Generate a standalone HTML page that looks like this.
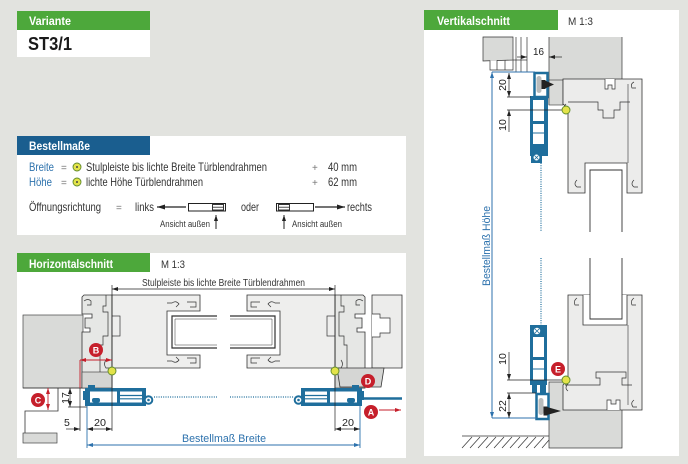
<!DOCTYPE html>
<html><head><meta charset="utf-8"><style>
html,body{margin:0;padding:0;background:#e2e3df;}
svg{display:block;}
text{font-family:"Liberation Sans",sans-serif;}
</style></head><body>
<svg width="688" height="464" viewBox="0 0 688 464" xmlns="http://www.w3.org/2000/svg">
<defs>
<marker id="mk" markerUnits="userSpaceOnUse" markerWidth="6" markerHeight="4" viewBox="0 0 6 4" refX="6" refY="2" orient="auto-start-reverse"><path d="M0,0 L6,2 L0,4 Z" fill="#222"/></marker>
<marker id="mb" markerUnits="userSpaceOnUse" markerWidth="6" markerHeight="4" viewBox="0 0 6 4" refX="6" refY="2" orient="auto-start-reverse"><path d="M0,0 L6,2 L0,4 Z" fill="#2d72ad"/></marker>
<marker id="mr" markerUnits="userSpaceOnUse" markerWidth="6" markerHeight="4" viewBox="0 0 6 4" refX="6" refY="2" orient="auto-start-reverse"><path d="M0,0 L6,2 L0,4 Z" fill="#c61f2b"/></marker>
<marker id="mbig" markerUnits="userSpaceOnUse" markerWidth="8" markerHeight="5" viewBox="0 0 8 5" refX="8" refY="2.5" orient="auto-start-reverse"><path d="M0,0 L8,2.5 L0,5 Z" fill="#222"/></marker>

<g id="leafL">
  <path d="M84,295 L112,295 L112,388 L82,388 L82,332 L90,332 L90,328 L85,328 L85,318 L92,318 L92,314 L82,314 L82,297 Z" fill="#e6e7e5" stroke="#333" stroke-width="0.8"/>
  <rect x="82" y="372" width="30" height="16" fill="#d4d5d3" stroke="#333" stroke-width="0.6"/>
  <path d="M84,301 Q88,298 91,301 L91,305 L87,305" fill="none" stroke="#333" stroke-width="0.7"/>
  <polyline points="106,295 106,306 103,306 103,312 108,312 108,336 103,336 103,345 100,345 100,372" fill="none" stroke="#333" stroke-width="0.7"/>
  <path d="M106,360 Q103,364 106,368 L110,368" fill="none" stroke="#333" stroke-width="0.7"/>
  <path d="M112,295 L200,295 L200,311 L167,311 L167,355 L200,355 L200,368 L112,368 Z" fill="#eeeeed" stroke="#333" stroke-width="0.8"/>
  <rect x="112" y="316" width="8" height="20" fill="#eeeeed" stroke="#333" stroke-width="0.7"/>
  <path d="M167,303 L172,303 Q176,300 179,304 L176,307 M187,302 L196,302 L196,307 L190,307" fill="none" stroke="#333" stroke-width="0.7"/>
  <path d="M167,361 L172,361 Q176,364 179,360 L176,357 M187,358 L196,358 L196,363 L190,363" fill="none" stroke="#333" stroke-width="0.7"/>
  <path d="M217,316 L172,316 L172,348 L217,348" fill="#fff" stroke="#333" stroke-width="1.2"/>
  <path d="M217,319 L175,319 L175,345 L217,345" fill="none" stroke="#333" stroke-width="0.5"/>
</g>

<g id="blueL">
  <rect x="85" y="388" width="61" height="18" fill="#1f6e9c"/>
  <rect x="88" y="385" width="7" height="4" fill="#1f6e9c"/>
  <rect x="83" y="391" width="3" height="9" fill="#1f6e9c"/>
  <rect x="90" y="391.5" width="27" height="11" fill="#fff"/>
  <rect x="92" y="398" width="8" height="4.5" rx="2" fill="#1f6e9c"/>
  <rect x="120" y="391.5" width="22" height="11" fill="#fff"/>
  <line x1="120" y1="395.5" x2="142" y2="395.5" stroke="#1f6e9c" stroke-width="1.2"/>
  <line x1="120" y1="398.8" x2="142" y2="398.8" stroke="#1f6e9c" stroke-width="1.2"/>
  <circle cx="148.5" cy="400" r="4.8" fill="#1f6e9c"/>
  <circle cx="148.5" cy="400" r="2.8" fill="#fff"/>
  <circle cx="148.5" cy="400" r="1.3" fill="#1f6e9c"/>
</g>
</defs>

<rect width="688" height="464" fill="#e2e3df"/>

<!-- Variante -->
<rect x="17" y="11" width="133" height="19" fill="#4da83b"/>
<text x="29" y="25" font-size="11.5" font-weight="bold" fill="#fff" textLength="42" lengthAdjust="spacingAndGlyphs">Variante</text>
<rect x="17" y="30" width="133" height="27" fill="#fff"/>
<text x="28" y="50" font-size="18" font-weight="bold" fill="#1a1a1a" textLength="44" lengthAdjust="spacingAndGlyphs">ST3/1</text>

<!-- Bestellmaße -->
<rect x="17" y="136" width="389" height="99" fill="#fff"/>
<rect x="17" y="136" width="133" height="19" fill="#1a5e8f"/>
<text x="29" y="150" font-size="11.5" font-weight="bold" fill="#fff" textLength="61" lengthAdjust="spacingAndGlyphs">Bestellmaße</text>

<g font-size="12" fill="#333">
<text x="29" y="171" fill="#2d72ad" textLength="25" lengthAdjust="spacingAndGlyphs">Breite</text>
<text x="61" y="171" font-size="10" fill="#777">=</text>
<text x="86" y="171" textLength="181" lengthAdjust="spacingAndGlyphs">Stulpleiste bis lichte Breite Türblendrahmen</text>
<text x="312" y="171" font-size="10" fill="#777">+</text>
<text x="328" y="171" textLength="29" lengthAdjust="spacingAndGlyphs">40 mm</text>

<text x="29" y="186" fill="#2d72ad" textLength="23" lengthAdjust="spacingAndGlyphs">Höhe</text>
<text x="61" y="186" font-size="10" fill="#777">=</text>
<text x="86" y="186" textLength="117" lengthAdjust="spacingAndGlyphs">lichte Höhe Türblendrahmen</text>
<text x="312" y="186" font-size="10" fill="#777">+</text>
<text x="328" y="186" textLength="29" lengthAdjust="spacingAndGlyphs">62 mm</text>

<text x="29" y="211" textLength="72" lengthAdjust="spacingAndGlyphs">Öffnungsrichtung</text>
<text x="116" y="211" font-size="10" fill="#777">=</text>
<text x="135" y="211" textLength="19" lengthAdjust="spacingAndGlyphs">links</text>
<text x="241" y="211" textLength="18" lengthAdjust="spacingAndGlyphs">oder</text>
<text x="347" y="211" textLength="25" lengthAdjust="spacingAndGlyphs">rechts</text>
</g>
<circle cx="77" cy="167" r="4" fill="#e3e34a" stroke="#5f8a2a" stroke-width="0.9"/>
<circle cx="77" cy="167" r="1" fill="#444"/>
<circle cx="77" cy="182" r="4" fill="#e3e34a" stroke="#5f8a2a" stroke-width="0.9"/>
<circle cx="77" cy="182" r="1" fill="#444"/>

<line x1="186" y1="207" x2="157" y2="207" stroke="#222" stroke-width="1.2" marker-end="url(#mbig)"/>
<rect x="188.5" y="203.5" width="37" height="7.5" fill="none" stroke="#222" stroke-width="1"/>
<rect x="212.5" y="204.5" width="11" height="5.5" fill="none" stroke="#222" stroke-width="0.9"/>
<line x1="212.5" y1="207.2" x2="223.5" y2="207.2" stroke="#222" stroke-width="0.8"/>
<rect x="276.5" y="203.5" width="37" height="7.5" fill="none" stroke="#222" stroke-width="1"/>
<rect x="278.5" y="204.5" width="11" height="5.5" fill="none" stroke="#222" stroke-width="0.9"/>
<line x1="278.5" y1="207.2" x2="289.5" y2="207.2" stroke="#222" stroke-width="0.8"/>
<line x1="315" y1="207" x2="345" y2="207" stroke="#222" stroke-width="1.2" marker-end="url(#mbig)"/>

<text x="160" y="227" font-size="9" fill="#333" textLength="50" lengthAdjust="spacingAndGlyphs">Ansicht außen</text>
<line x1="216" y1="229" x2="216" y2="215" stroke="#222" stroke-width="1" marker-end="url(#mk)"/>
<line x1="284" y1="229" x2="284" y2="215" stroke="#222" stroke-width="1" marker-end="url(#mk)"/>
<text x="292" y="227" font-size="9" fill="#333" textLength="50" lengthAdjust="spacingAndGlyphs">Ansicht außen</text>

<!-- Horizontalschnitt -->
<rect x="17" y="253" width="389" height="205" fill="#fff"/>
<rect x="17" y="253" width="133" height="19" fill="#4da83b"/>
<text x="29" y="268" font-size="11.5" font-weight="bold" fill="#fff" textLength="84" lengthAdjust="spacingAndGlyphs">Horizontalschnitt</text>
<text x="161" y="268" font-size="11" fill="#333" textLength="24" lengthAdjust="spacingAndGlyphs">M 1:3</text>

<rect x="23" y="315" width="60" height="73" fill="#d9dad8" stroke="#444" stroke-width="0.7"/>
<line x1="23" y1="388" x2="112" y2="388" stroke="#333" stroke-width="0.8"/>
<polyline points="58,388 58,411 25,411 25,433" fill="none" stroke="#333" stroke-width="0.8"/>
<rect x="23" y="433" width="34" height="10" fill="#d9dad8" stroke="#444" stroke-width="0.7"/>

<use href="#leafL"/>
<use href="#leafL" transform="translate(447,0) scale(-1,1)"/>

<path d="M372,295 L402,295 L402,368 L372,368 Z" fill="#ececeb" stroke="#333" stroke-width="0.8"/>
<path d="M372,314 L380,314 L380,318 L390,318 L390,333 L380,333 L380,337 L372,337" fill="#fff" stroke="#333" stroke-width="0.7"/>
<path d="M337,368 L384,368 L381,387 L340,387 Z" fill="#d5d6d4" stroke="#333" stroke-width="0.8"/>

<use href="#blueL"/>
<use href="#blueL" transform="translate(447,0) scale(-1,1)"/>
<line x1="361" y1="398.5" x2="402" y2="398.5" stroke="#1f6e9c" stroke-width="2.4"/>
<line x1="154" y1="397" x2="217" y2="397" stroke="#1f6e9c" stroke-width="1.3" stroke-dasharray="1 1.3"/>
<line x1="230" y1="397" x2="294" y2="397" stroke="#1f6e9c" stroke-width="1.3" stroke-dasharray="1 1.3"/>

<g stroke="#222" stroke-width="0.7" fill="none">
<line x1="112" y1="289" x2="335" y2="289" marker-start="url(#mk)" marker-end="url(#mk)"/>
<line x1="112" y1="285" x2="112" y2="431"/>
<line x1="335" y1="285" x2="335" y2="431"/>
<line x1="80" y1="388" x2="80" y2="431"/>
<line x1="66" y1="429" x2="80" y2="429" marker-end="url(#mk)"/>
<line x1="87" y1="429" x2="112" y2="429" marker-start="url(#mk)" marker-end="url(#mk)"/>
<line x1="335" y1="429" x2="360" y2="429" marker-start="url(#mk)" marker-end="url(#mk)"/>
<line x1="70" y1="388" x2="70" y2="407" marker-start="url(#mk)" marker-end="url(#mk)"/>
<line x1="68" y1="407" x2="87" y2="407"/>
</g>
<text x="142" y="286" font-size="10.5" fill="#333" textLength="163" lengthAdjust="spacingAndGlyphs">Stulpleiste bis lichte Breite Türblendrahmen</text>
<text x="64" y="426" font-size="10.5" fill="#222">5</text>
<text x="94" y="426" font-size="10.5" fill="#222" textLength="12" lengthAdjust="spacingAndGlyphs">20</text>
<text x="342" y="426" font-size="10.5" fill="#222" textLength="12" lengthAdjust="spacingAndGlyphs">20</text>
<text transform="translate(69,398) rotate(-90)" text-anchor="middle" font-size="10.5" fill="#222">17</text>

<g stroke="#2d72ad" stroke-width="0.9" fill="none">
<line x1="87" y1="406" x2="87" y2="448"/>
<line x1="360" y1="406" x2="360" y2="448"/>
<line x1="87" y1="445" x2="360" y2="445" marker-start="url(#mb)" marker-end="url(#mb)"/>
</g>
<text x="182" y="442" font-size="11" fill="#2d72ad" textLength="84" lengthAdjust="spacingAndGlyphs">Bestellmaß Breite</text>

<g stroke="#c61f2b" stroke-width="0.9" fill="none">
<line x1="80" y1="360" x2="80" y2="388"/>
<line x1="80" y1="360" x2="112" y2="360" marker-start="url(#mr)" marker-end="url(#mr)"/>
<line x1="48" y1="388" x2="48" y2="410" marker-start="url(#mr)" marker-end="url(#mr)"/>
<line x1="379" y1="410" x2="401" y2="410" marker-end="url(#mr)"/>
</g>
<g font-size="9" font-weight="bold" fill="#fff" text-anchor="middle">
<circle cx="96" cy="350" r="7" fill="#c61f2b"/><text x="96" y="353.3">B</text>
<circle cx="38" cy="400" r="7" fill="#c61f2b"/><text x="38" y="403.3">C</text>
<circle cx="368" cy="381" r="7" fill="#c61f2b"/><text x="368" y="384.3">D</text>
<circle cx="371" cy="412" r="7" fill="#c61f2b"/><text x="371" y="415.3">A</text>
</g>
<circle cx="112" cy="371" r="4" fill="#e3e34a" stroke="#5f8a2a" stroke-width="0.9"/>
<circle cx="335" cy="371" r="4" fill="#e3e34a" stroke="#5f8a2a" stroke-width="0.9"/>

<!-- Vertikalschnitt -->
<rect x="424" y="10" width="255" height="446" fill="#fff"/>
<rect x="424" y="10" width="134" height="20" fill="#4da83b"/>
<text x="437" y="25" font-size="11.5" font-weight="bold" fill="#fff" textLength="73" lengthAdjust="spacingAndGlyphs">Vertikalschnitt</text>
<text x="568" y="25" font-size="11" fill="#333" textLength="25" lengthAdjust="spacingAndGlyphs">M 1:3</text>

<path d="M483,37 L513,37 L513,60 L483,61 Z" fill="#d9dad8" stroke="#333" stroke-width="0.7"/>
<path d="M490,60.5 L490,70 L497,70 L497,60.3 M497,70 L505,70 L505,60.1 M505,70 L513,70 L513,60" fill="#fff" stroke="#333" stroke-width="0.7"/>
<g stroke="#333" stroke-width="0.7">
<line x1="516" y1="37" x2="516" y2="72"/>
<line x1="521" y1="37" x2="521" y2="72"/>
<line x1="527" y1="37" x2="527" y2="72"/>
<line x1="513" y1="60" x2="527" y2="60"/>
</g>
<rect x="549" y="37" width="73" height="43" fill="#d9dad8"/>
<line x1="549" y1="37" x2="549" y2="105" stroke="#333" stroke-width="0.7"/>
<line x1="622" y1="37" x2="622" y2="80" stroke="#333" stroke-width="0.7"/>
<rect x="549" y="80" width="14" height="25" fill="#d9dad8" stroke="#333" stroke-width="0.6"/>
<path d="M563,79 L642,79 L642,193 L627,193 L627,163 L585,163 L585,193 L568,193 L568,108 L563,104 Z" fill="#ececeb" stroke="#333" stroke-width="0.8"/>
<path d="M605,79 L605,89 L608,89 L608,85 L612,85 L612,89 L615,89 L615,79" fill="#fff" stroke="#333" stroke-width="0.7"/>
<polyline points="568,102 598,102 598,110 603,110 603,118 614,118 614,110 620,110 620,102 630,102" fill="none" stroke="#333" stroke-width="0.7"/>
<line x1="628" y1="84" x2="628" y2="163" stroke="#333" stroke-width="0.6"/>
<path d="M634,82 Q630,84 632,88 L636,88 M634,180 Q630,184 634,187 L638,187 M577,180 Q573,184 577,187 L581,187 M566,104 Q562,108 566,111" fill="none" stroke="#333" stroke-width="0.7"/>
<path d="M590,232 L590,170 L622,170 L622,232" fill="#fff" stroke="#333" stroke-width="0.9"/>

<rect x="534.5" y="73" width="13" height="24" fill="none" stroke="#1f6e9c" stroke-width="2.5"/>
<rect x="536.5" y="76" width="5" height="17" rx="2.5" fill="#b9bcbc"/>
<rect x="541.5" y="80" width="4" height="9" fill="#222"/>
<polygon points="545,80.5 554,84.5 545,88.5" fill="#222"/>
<rect x="530" y="96" width="18" height="60" fill="#1f6e9c"/>
<rect x="533" y="100" width="11" height="21" fill="#fff"/>
<rect x="533" y="124" width="11" height="20" fill="#fff"/>
<line x1="533" y1="133" x2="544" y2="133" stroke="#1f6e9c" stroke-width="1"/>
<rect x="531" y="152" width="11" height="11" fill="#1f6e9c"/>
<circle cx="536.5" cy="157.5" r="3" fill="#fff"/>
<path d="M534.5,155.5 L538.5,159.5 M538.5,155.5 L534.5,159.5" stroke="#1f6e9c" stroke-width="0.8"/>

<line x1="541" y1="163" x2="541" y2="232" stroke="#1f6e9c" stroke-width="1.2" stroke-dasharray="1 1.3"/>
<line x1="541" y1="258" x2="541" y2="325" stroke="#1f6e9c" stroke-width="1.2" stroke-dasharray="1 1.3"/>

<rect x="549" y="382" width="73" height="66" fill="#d9dad8" stroke="#333" stroke-width="0.7"/>
<path d="M568,295 L642,295 L642,410 L563,410 L563,385 L568,380 Z" fill="#ececeb" stroke="#333" stroke-width="0.8"/>
<path d="M583,295 L583,325 L627,325 L627,295" fill="#fff" stroke="#333" stroke-width="0.8"/>
<path d="M590,258 L590,319 L622,319 L622,258" fill="#fff" stroke="#333" stroke-width="0.9"/>
<polyline points="565,385 600,385 600,378 596,378 596,372 626,372 626,378 622,378 622,385 632,385" fill="none" stroke="#333" stroke-width="0.7"/>
<line x1="628" y1="325" x2="628" y2="405" stroke="#333" stroke-width="0.6"/>
<path d="M607,410 L607,400 L611,400 L611,404 L616,404 L616,400 L620,400 L620,410" fill="#fff" stroke="#333" stroke-width="0.7"/>
<path d="M634,298 Q630,301 632,305 L636,305 M577,298 Q573,301 575,305 L579,305 M634,400 Q630,403 633,407 L637,407 M568,384 Q564,388 568,391" fill="none" stroke="#333" stroke-width="0.7"/>

<rect x="530" y="325" width="17" height="60" fill="#1f6e9c"/>
<circle cx="537" cy="331" r="3.2" fill="#fff"/>
<path d="M535,329 L539,333 M539,329 L535,333" stroke="#1f6e9c" stroke-width="0.8"/>
<rect x="533" y="337" width="11" height="20" fill="#fff"/>
<rect x="533" y="360" width="11" height="20" fill="#fff"/>
<line x1="533" y1="369" x2="544" y2="369" stroke="#1f6e9c" stroke-width="1"/>
<rect x="532" y="383" width="14" height="10" fill="#1f6e9c"/>
<rect x="537" y="385" width="3" height="8" fill="#fff"/>
<rect x="536.5" y="394" width="12" height="25" fill="none" stroke="#1f6e9c" stroke-width="2.5"/>
<rect x="538.5" y="398" width="5" height="17" rx="2.5" fill="#b9bcbc"/>
<rect x="543.5" y="406.5" width="4" height="9" fill="#222"/>
<polygon points="547,407 561,411 547,415" fill="#222"/>

<line x1="462" y1="436" x2="549" y2="436" stroke="#333" stroke-width="0.8"/>
<g stroke="#333" stroke-width="0.7">
<line x1="462" y1="448" x2="472" y2="437"/><line x1="470" y1="448" x2="480" y2="437"/>
<line x1="478" y1="448" x2="488" y2="437"/><line x1="486" y1="448" x2="496" y2="437"/>
<line x1="494" y1="448" x2="504" y2="437"/><line x1="502" y1="448" x2="512" y2="437"/>
<line x1="510" y1="448" x2="520" y2="437"/><line x1="518" y1="448" x2="528" y2="437"/>
<line x1="526" y1="448" x2="536" y2="437"/><line x1="534" y1="448" x2="544" y2="437"/>
<line x1="542" y1="448" x2="549" y2="440"/>
</g>

<g stroke="#2d72ad" stroke-width="1" fill="none">
<line x1="492" y1="72" x2="492" y2="418" marker-start="url(#mb)" marker-end="url(#mb)"/>
<line x1="492" y1="72" x2="535" y2="72"/>
<line x1="492" y1="418" x2="537" y2="418"/>
</g>
<text transform="translate(490,246) rotate(-90)" text-anchor="middle" font-size="11" fill="#2d72ad" textLength="80" lengthAdjust="spacingAndGlyphs">Bestellmaß Höhe</text>

<g stroke="#222" stroke-width="0.7" fill="none">
<line x1="517" y1="57" x2="527" y2="57" marker-end="url(#mk)"/>
<line x1="562" y1="57" x2="549" y2="57" marker-end="url(#mk)"/>
<line x1="509" y1="73" x2="509" y2="97" marker-start="url(#mk)" marker-end="url(#mk)"/>
<line x1="507" y1="97" x2="531" y2="97"/>
<line x1="509" y1="132" x2="509" y2="110" marker-end="url(#mk)"/>
<line x1="507" y1="110" x2="566" y2="110"/>
<line x1="509" y1="352" x2="509" y2="380" marker-end="url(#mk)"/>
<line x1="507" y1="380" x2="566" y2="380"/>
<line x1="509" y1="393" x2="509" y2="418" marker-start="url(#mk)" marker-end="url(#mk)"/>
<line x1="507" y1="393" x2="536" y2="393"/>
</g>
<text x="533" y="55" font-size="10.5" fill="#222" textLength="11" lengthAdjust="spacingAndGlyphs">16</text>
<text transform="translate(506,85) rotate(-90)" text-anchor="middle" font-size="10.5" fill="#222">20</text>
<text transform="translate(506,125) rotate(-90)" text-anchor="middle" font-size="10.5" fill="#222">10</text>
<text transform="translate(506,359) rotate(-90)" text-anchor="middle" font-size="10.5" fill="#222">10</text>
<text transform="translate(506,406) rotate(-90)" text-anchor="middle" font-size="10.5" fill="#222">22</text>

<circle cx="558" cy="369" r="7" fill="#c61f2b"/>
<text x="558" y="372.3" font-size="9" font-weight="bold" fill="#fff" text-anchor="middle">E</text>
<circle cx="566" cy="110" r="4" fill="#e3e34a" stroke="#5f8a2a" stroke-width="0.9"/>
<circle cx="566" cy="380" r="4" fill="#e3e34a" stroke="#5f8a2a" stroke-width="0.9"/>
</svg>
</body></html>
